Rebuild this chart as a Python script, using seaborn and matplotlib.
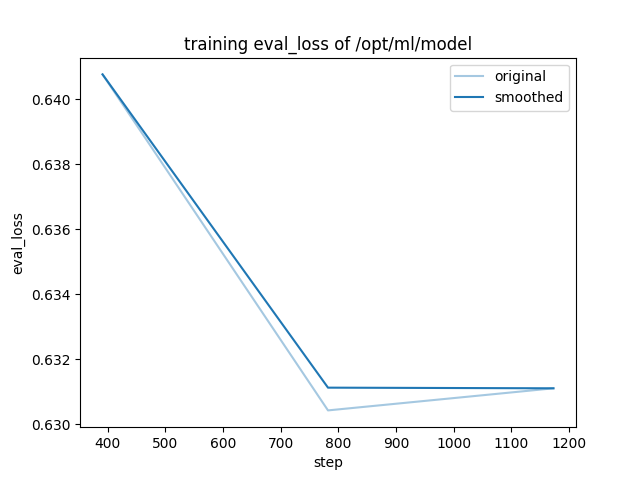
import numpy as np
import pandas as pd
import matplotlib
matplotlib.use("Agg")
import matplotlib.pyplot as plt
import seaborn as sns

steps = [391, 782, 1173]
original = [0.64077, 0.63043, 0.63111]
smoothed = [0.64077, 0.63113, 0.63111]

df = pd.DataFrame({"step": steps, "original": original, "smoothed": smoothed})

fig, ax = plt.subplots(figsize=(6.4, 4.8), dpi=100)
sns.lineplot(data=df, x="step", y="original", color="#1f77b4", alpha=0.4, label="original", ax=ax)
sns.lineplot(data=df, x="step", y="smoothed", color="#1f77b4", label="smoothed", ax=ax)
ax.set_title("training eval_loss of /opt/ml/model")
ax.set_xlabel("step")
ax.set_ylabel("eval_loss")
ax.legend()
fig.savefig("out.png")
